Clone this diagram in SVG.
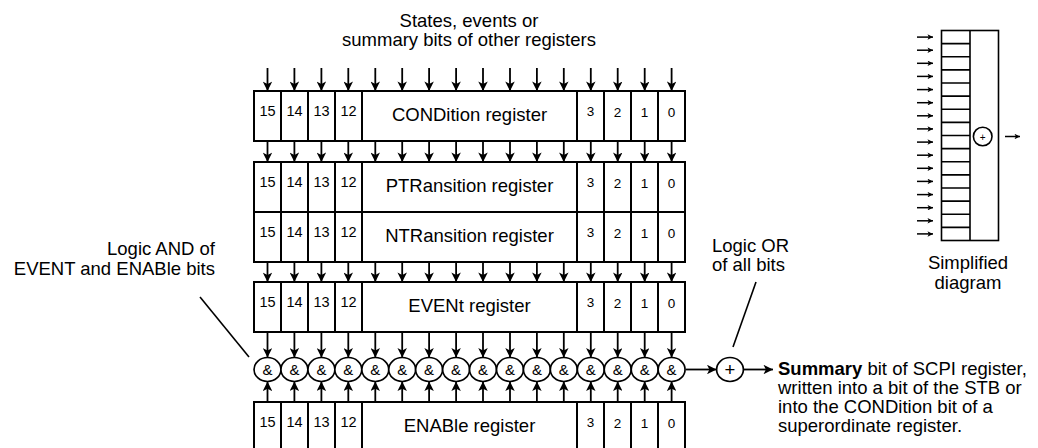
<svg xmlns="http://www.w3.org/2000/svg" width="1038" height="448" viewBox="0 0 1038 448">
<style>
.bx{fill:#fff;stroke:#000;stroke-width:2}
.ln{stroke:#000;stroke-width:2;fill:none}
.ar{stroke:#000;stroke-width:1.8;fill:none;marker-end:url(#ah)}
.as{stroke:#000;stroke-width:1.5;fill:none;marker-end:url(#ahs)}
.ld{stroke:#000;stroke-width:1.6;fill:none}
.g{fill:#fff;stroke:#000;stroke-width:1.7}
text{font-family:"Liberation Sans",Arial,sans-serif;fill:#000}
.t{font-size:18.5px}
.tc{font-size:18.5px;text-anchor:middle}
.n{font-size:14.5px;text-anchor:middle}
.m{font-size:13.5px;text-anchor:middle}
.amp{font-size:15px;text-anchor:middle}
</style>
<defs>
<marker id="ah" markerUnits="userSpaceOnUse" viewBox="0 0 10 10" refX="10" refY="5" markerWidth="10" markerHeight="9.5" orient="auto"><path d="M0,0 L10,5 L0,10 L2.5,5 Z" fill="#000"/></marker>
<marker id="ahs" markerUnits="userSpaceOnUse" viewBox="0 0 10 10" refX="10" refY="5" markerWidth="7" markerHeight="5.5" orient="auto"><path d="M0,0 L10,5 L0,10 L2.5,5 Z" fill="#000"/></marker>
</defs>
<rect width="1038" height="448" fill="#fff"/>

<g id="label-top">
<text class="tc" x="469" y="27">States, events or</text>
<text class="tc" x="469" y="46">summary bits of other registers</text>
</g>

<g id="condition">
<rect class="bx" x="254" y="91" width="431" height="50"/>
<path class="ln" d="M281,91V141M308,91V141M335,91V141M362,91V141M577,91V141M604,91V141M631,91V141M658,91V141"/>
<text class="n" x="267.5" y="115.5">15</text><text class="n" x="294.5" y="115.5">14</text><text class="n" x="321.5" y="115.5">13</text><text class="n" x="348.5" y="115.5">12</text>
<text class="tc" x="469.5" y="120.5">CONDition register</text>
<text class="m" x="590.5" y="115.5">3</text><text class="m" x="617.5" y="117">2</text><text class="m" x="644.5" y="117">1</text><text class="m" x="671.5" y="117">0</text>
</g>

<g id="ptransition">
<rect class="bx" x="254" y="162" width="431" height="50"/>
<path class="ln" d="M281,162V212M308,162V212M335,162V212M362,162V212M577,162V212M604,162V212M631,162V212M658,162V212"/>
<text class="n" x="267.5" y="186.5">15</text><text class="n" x="294.5" y="186.5">14</text><text class="n" x="321.5" y="186.5">13</text><text class="n" x="348.5" y="186.5">12</text>
<text class="tc" x="469.5" y="191.5">PTRansition register</text>
<text class="m" x="590.5" y="186.5">3</text><text class="m" x="617.5" y="188">2</text><text class="m" x="644.5" y="188">1</text><text class="m" x="671.5" y="188">0</text>
</g>

<g id="ntransition">
<rect class="bx" x="254" y="212" width="431" height="50"/>
<path class="ln" d="M281,212V262M308,212V262M335,212V262M362,212V262M577,212V262M604,212V262M631,212V262M658,212V262"/>
<text class="n" x="267.5" y="236.5">15</text><text class="n" x="294.5" y="236.5">14</text><text class="n" x="321.5" y="236.5">13</text><text class="n" x="348.5" y="236.5">12</text>
<text class="tc" x="469.5" y="241.5">NTRansition register</text>
<text class="m" x="590.5" y="236.5">3</text><text class="m" x="617.5" y="238">2</text><text class="m" x="644.5" y="238">1</text><text class="m" x="671.5" y="238">0</text>
</g>

<g id="event">
<rect class="bx" x="254" y="282" width="431" height="50"/>
<path class="ln" d="M281,282V332M308,282V332M335,282V332M362,282V332M577,282V332M604,282V332M631,282V332M658,282V332"/>
<text class="n" x="267.5" y="306.5">15</text><text class="n" x="294.5" y="306.5">14</text><text class="n" x="321.5" y="306.5">13</text><text class="n" x="348.5" y="306.5">12</text>
<text class="tc" x="469.5" y="311.5">EVENt register</text>
<text class="m" x="590.5" y="306.5">3</text><text class="m" x="617.5" y="308">2</text><text class="m" x="644.5" y="308">1</text><text class="m" x="671.5" y="308">0</text>
</g>

<g id="enable">
<rect class="bx" x="254" y="402" width="431" height="60"/>
<path class="ln" d="M281,402V448M308,402V448M335,402V448M362,402V448M577,402V448M604,402V448M631,402V448M658,402V448"/>
<text class="n" x="267.5" y="426.5">15</text><text class="n" x="294.5" y="426.5">14</text><text class="n" x="321.5" y="426.5">13</text><text class="n" x="348.5" y="426.5">12</text>
<text class="tc" x="469.5" y="431.5">ENABle register</text>
<text class="m" x="590.5" y="426.5">3</text><text class="m" x="617.5" y="428">2</text><text class="m" x="644.5" y="428">1</text><text class="m" x="671.5" y="428">0</text>
</g>

<g id="and-gates">
<ellipse class="g" cx="267.5" cy="369.5" rx="13.47" ry="12"/><ellipse class="g" cx="294.4" cy="369.5" rx="13.47" ry="12"/><ellipse class="g" cx="321.4" cy="369.5" rx="13.47" ry="12"/><ellipse class="g" cx="348.3" cy="369.5" rx="13.47" ry="12"/>
<ellipse class="g" cx="375.3" cy="369.5" rx="13.47" ry="12"/><ellipse class="g" cx="402.2" cy="369.5" rx="13.47" ry="12"/><ellipse class="g" cx="429.1" cy="369.5" rx="13.47" ry="12"/><ellipse class="g" cx="456.1" cy="369.5" rx="13.47" ry="12"/>
<ellipse class="g" cx="483" cy="369.5" rx="13.47" ry="12"/><ellipse class="g" cx="510" cy="369.5" rx="13.47" ry="12"/><ellipse class="g" cx="536.9" cy="369.5" rx="13.47" ry="12"/><ellipse class="g" cx="563.8" cy="369.5" rx="13.47" ry="12"/>
<ellipse class="g" cx="590.8" cy="369.5" rx="13.47" ry="12"/><ellipse class="g" cx="617.7" cy="369.5" rx="13.47" ry="12"/><ellipse class="g" cx="644.7" cy="369.5" rx="13.47" ry="12"/><ellipse class="g" cx="671.6" cy="369.5" rx="13.47" ry="12"/>
<text class="amp" x="267.5" y="374.5">&amp;</text><text class="amp" x="294.4" y="374.5">&amp;</text><text class="amp" x="321.4" y="374.5">&amp;</text><text class="amp" x="348.3" y="374.5">&amp;</text>
<text class="amp" x="375.3" y="374.5">&amp;</text><text class="amp" x="402.2" y="374.5">&amp;</text><text class="amp" x="429.1" y="374.5">&amp;</text><text class="amp" x="456.1" y="374.5">&amp;</text>
<text class="amp" x="483" y="374.5">&amp;</text><text class="amp" x="510" y="374.5">&amp;</text><text class="amp" x="536.9" y="374.5">&amp;</text><text class="amp" x="563.8" y="374.5">&amp;</text>
<text class="amp" x="590.8" y="374.5">&amp;</text><text class="amp" x="617.7" y="374.5">&amp;</text><text class="amp" x="644.7" y="374.5">&amp;</text><text class="amp" x="671.6" y="374.5">&amp;</text>
</g>

<g id="or-gate">
<ellipse class="g" cx="730" cy="369.5" rx="13.4" ry="12"/>
<text class="tc" x="730" y="376">+</text>
</g>

<g id="connectors">
<line class="ar" x1="267.5" y1="68" x2="267.5" y2="91"/><line class="ar" x1="294.4" y1="68" x2="294.4" y2="91"/><line class="ar" x1="321.4" y1="68" x2="321.4" y2="91"/><line class="ar" x1="348.3" y1="68" x2="348.3" y2="91"/>
<line class="ar" x1="375.3" y1="68" x2="375.3" y2="91"/><line class="ar" x1="402.2" y1="68" x2="402.2" y2="91"/><line class="ar" x1="429.1" y1="68" x2="429.1" y2="91"/><line class="ar" x1="456.1" y1="68" x2="456.1" y2="91"/>
<line class="ar" x1="483" y1="68" x2="483" y2="91"/><line class="ar" x1="510" y1="68" x2="510" y2="91"/><line class="ar" x1="536.9" y1="68" x2="536.9" y2="91"/><line class="ar" x1="563.8" y1="68" x2="563.8" y2="91"/>
<line class="ar" x1="590.8" y1="68" x2="590.8" y2="91"/><line class="ar" x1="617.7" y1="68" x2="617.7" y2="91"/><line class="ar" x1="644.7" y1="68" x2="644.7" y2="91"/><line class="ar" x1="671.6" y1="68" x2="671.6" y2="91"/>

<line class="ar" x1="267.5" y1="141" x2="267.5" y2="162"/><line class="ar" x1="294.4" y1="141" x2="294.4" y2="162"/><line class="ar" x1="321.4" y1="141" x2="321.4" y2="162"/><line class="ar" x1="348.3" y1="141" x2="348.3" y2="162"/>
<line class="ar" x1="375.3" y1="141" x2="375.3" y2="162"/><line class="ar" x1="402.2" y1="141" x2="402.2" y2="162"/><line class="ar" x1="429.1" y1="141" x2="429.1" y2="162"/><line class="ar" x1="456.1" y1="141" x2="456.1" y2="162"/>
<line class="ar" x1="483" y1="141" x2="483" y2="162"/><line class="ar" x1="510" y1="141" x2="510" y2="162"/><line class="ar" x1="536.9" y1="141" x2="536.9" y2="162"/><line class="ar" x1="563.8" y1="141" x2="563.8" y2="162"/>
<line class="ar" x1="590.8" y1="141" x2="590.8" y2="162"/><line class="ar" x1="617.7" y1="141" x2="617.7" y2="162"/><line class="ar" x1="644.7" y1="141" x2="644.7" y2="162"/><line class="ar" x1="671.6" y1="141" x2="671.6" y2="162"/>

<line class="ar" x1="267.5" y1="262" x2="267.5" y2="282"/><line class="ar" x1="294.4" y1="262" x2="294.4" y2="282"/><line class="ar" x1="321.4" y1="262" x2="321.4" y2="282"/><line class="ar" x1="348.3" y1="262" x2="348.3" y2="282"/>
<line class="ar" x1="375.3" y1="262" x2="375.3" y2="282"/><line class="ar" x1="402.2" y1="262" x2="402.2" y2="282"/><line class="ar" x1="429.1" y1="262" x2="429.1" y2="282"/><line class="ar" x1="456.1" y1="262" x2="456.1" y2="282"/>
<line class="ar" x1="483" y1="262" x2="483" y2="282"/><line class="ar" x1="510" y1="262" x2="510" y2="282"/><line class="ar" x1="536.9" y1="262" x2="536.9" y2="282"/><line class="ar" x1="563.8" y1="262" x2="563.8" y2="282"/>
<line class="ar" x1="590.8" y1="262" x2="590.8" y2="282"/><line class="ar" x1="617.7" y1="262" x2="617.7" y2="282"/><line class="ar" x1="644.7" y1="262" x2="644.7" y2="282"/><line class="ar" x1="671.6" y1="262" x2="671.6" y2="282"/>

<line class="ar" x1="267.5" y1="332" x2="267.5" y2="357.5"/><line class="ar" x1="294.4" y1="332" x2="294.4" y2="357.5"/><line class="ar" x1="321.4" y1="332" x2="321.4" y2="357.5"/><line class="ar" x1="348.3" y1="332" x2="348.3" y2="357.5"/>
<line class="ar" x1="375.3" y1="332" x2="375.3" y2="357.5"/><line class="ar" x1="402.2" y1="332" x2="402.2" y2="357.5"/><line class="ar" x1="429.1" y1="332" x2="429.1" y2="357.5"/><line class="ar" x1="456.1" y1="332" x2="456.1" y2="357.5"/>
<line class="ar" x1="483" y1="332" x2="483" y2="357.5"/><line class="ar" x1="510" y1="332" x2="510" y2="357.5"/><line class="ar" x1="536.9" y1="332" x2="536.9" y2="357.5"/><line class="ar" x1="563.8" y1="332" x2="563.8" y2="357.5"/>
<line class="ar" x1="590.8" y1="332" x2="590.8" y2="357.5"/><line class="ar" x1="617.7" y1="332" x2="617.7" y2="357.5"/><line class="ar" x1="644.7" y1="332" x2="644.7" y2="357.5"/><line class="ar" x1="671.6" y1="332" x2="671.6" y2="357.5"/>

<line class="ar" x1="267.5" y1="402" x2="267.5" y2="381.5"/><line class="ar" x1="294.4" y1="402" x2="294.4" y2="381.5"/><line class="ar" x1="321.4" y1="402" x2="321.4" y2="381.5"/><line class="ar" x1="348.3" y1="402" x2="348.3" y2="381.5"/>
<line class="ar" x1="375.3" y1="402" x2="375.3" y2="381.5"/><line class="ar" x1="402.2" y1="402" x2="402.2" y2="381.5"/><line class="ar" x1="429.1" y1="402" x2="429.1" y2="381.5"/><line class="ar" x1="456.1" y1="402" x2="456.1" y2="381.5"/>
<line class="ar" x1="483" y1="402" x2="483" y2="381.5"/><line class="ar" x1="510" y1="402" x2="510" y2="381.5"/><line class="ar" x1="536.9" y1="402" x2="536.9" y2="381.5"/><line class="ar" x1="563.8" y1="402" x2="563.8" y2="381.5"/>
<line class="ar" x1="590.8" y1="402" x2="590.8" y2="381.5"/><line class="ar" x1="617.7" y1="402" x2="617.7" y2="381.5"/><line class="ar" x1="644.7" y1="402" x2="644.7" y2="381.5"/><line class="ar" x1="671.6" y1="402" x2="671.6" y2="381.5"/>

<line class="ar" x1="686" y1="369.5" x2="716.5" y2="369.5"/>
<line class="ar" x1="744" y1="369.5" x2="773" y2="369.5"/>
<line class="ld" x1="200" y1="297" x2="249" y2="357"/>
<line class="ld" x1="756" y1="282" x2="733" y2="347"/>
<line class="as" x1="917" y1="37.1" x2="933" y2="37.1"/><line class="as" x1="917" y1="50.2" x2="933" y2="50.2"/><line class="as" x1="917" y1="63.3" x2="933" y2="63.3"/><line class="as" x1="917" y1="76.4" x2="933" y2="76.4"/>
<line class="as" x1="917" y1="89.6" x2="933" y2="89.6"/><line class="as" x1="917" y1="102.7" x2="933" y2="102.7"/><line class="as" x1="917" y1="115.8" x2="933" y2="115.8"/><line class="as" x1="917" y1="128.9" x2="933" y2="128.9"/>
<line class="as" x1="917" y1="142.1" x2="933" y2="142.1"/><line class="as" x1="917" y1="155.2" x2="933" y2="155.2"/><line class="as" x1="917" y1="168.3" x2="933" y2="168.3"/><line class="as" x1="917" y1="181.4" x2="933" y2="181.4"/>
<line class="as" x1="917" y1="194.6" x2="933" y2="194.6"/><line class="as" x1="917" y1="207.7" x2="933" y2="207.7"/><line class="as" x1="917" y1="220.8" x2="933" y2="220.8"/><line class="as" x1="917" y1="233.9" x2="933" y2="233.9"/>
<line class="as" x1="1005" y1="136.5" x2="1020" y2="136.5"/>
</g>

<g id="simplified">
<rect class="bx" x="941.5" y="30.5" width="57" height="210" style="stroke-width:1.6"/>
<path class="ln" style="stroke-width:1.6" d="M970,30.5V240.5M941.5,43.6H970M941.5,56.8H970M941.5,69.9H970M941.5,83H970M941.5,96.1H970M941.5,109.3H970M941.5,122.4H970M941.5,135.5H970M941.5,148.6H970M941.5,161.8H970M941.5,174.9H970M941.5,188H970M941.5,201.1H970M941.5,214.3H970M941.5,227.4H970"/>
<circle cx="982.7" cy="136.5" r="9.3" fill="#fff" stroke="#000" stroke-width="1.6"/>
<text x="982.7" y="140.5" style="font-size:10px;text-anchor:middle">+</text>
<text class="tc" x="968" y="269">Simplified</text>
<text class="tc" x="968" y="289">diagram</text>
</g>

<g id="label-and">
<text class="t" x="215" y="255" text-anchor="end">Logic AND of</text>
<text class="t" x="215" y="275" text-anchor="end">EVENT and ENABle bits</text>
</g>

<g id="label-or">
<text class="t" x="712" y="252">Logic OR</text>
<text class="t" x="712" y="271">of all bits</text>
</g>

<g id="label-summary">
<text class="t" x="778" y="375"><tspan font-weight="bold">Summary</tspan> bit of SCPI register,</text>
<text class="t" x="778" y="394">written into a bit of the STB or</text>
<text class="t" x="778" y="413">into the CONDition bit of a</text>
<text class="t" x="778" y="432">superordinate register.</text>
</g>
</svg>
